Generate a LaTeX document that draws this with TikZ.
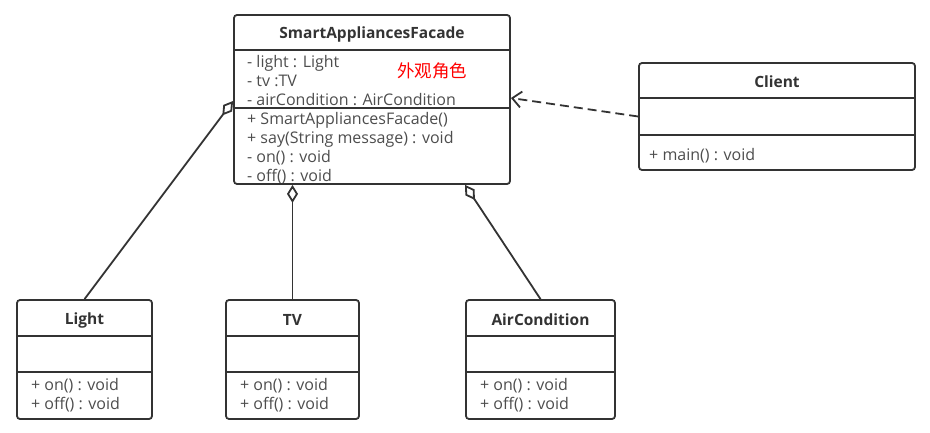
\documentclass[tikz,border=0pt]{standalone}
\usepackage{fontspec}
\setmainfont{Open Sans}
\newfontfamily\cjk{Noto Sans CJK SC}
\usetikzlibrary{arrows.meta}
\definecolor{linegray}{HTML}{333333}
\definecolor{textgray}{HTML}{4D4D4D}
\definecolor{rolered}{HTML}{FF0000}

\begin{document}
\begin{tikzpicture}[x=1pt, y=-1pt,
    class box/.style={draw=linegray, line width=1.8pt, rounded corners=3pt, inner sep=0pt},
    class name/.style={inner sep=0pt, text=linegray, font=\bfseries\fontsize{15.5}{17}\selectfont},
    member/.style={anchor=west, inner sep=0pt, text height=11.5pt, text depth=3.5pt, text=textgray, font=\fontsize{16}{18}\selectfont},
    sep line/.style={draw=linegray, line width=1.8pt},
    agg/.style={draw=linegray, line width=1.8pt, {Diamond[open, length=18pt, width=11pt]}-},
    dep/.style={draw=linegray, line width=1.8pt, dash pattern=on 9pt off 5pt, -{Straight Barb[length=9pt, width=16pt]}}]
  \useasboundingbox (0,0) rectangle (930,433);

  % facade
  \foreach \y/\t [count=\i] in {64/- light : Light, 83/- tv :TV, 102/- airCondition : AirCondition,
      121/+ SmartAppliancesFacade(), 140/+ say(String message) : void, 159/- on() : void, 178/- off() : void}
    \node[member] (facade-m\i) at (247,\y) {\t};
  \node[class box, minimum width=276pt, minimum height=169pt] (facade) at (372,99.5) {};
  \node[class name] (facade-name) at (372,34) {SmartAppliancesFacade};
  \draw[sep line] (facade.west |- 0,50) -- (facade.east |- 0,50);
  \draw[sep line] (facade.west |- 0,108) -- (facade.east |- 0,108);
  \node[inner sep=0pt, text=rolered, font=\cjk\fontsize{17.5}{18}\selectfont] (role) at (432,71) {外观角色};

  % client
  \node[class box, minimum width=276pt, minimum height=107pt] (client) at (777,116.5) {};
  \node[class name] (client-name) at (777,82) {Client};
  \draw[sep line] (client.west |- 0,98) -- (client.east |- 0,98);
  \draw[sep line] (client.west |- 0,135) -- (client.east |- 0,135);
  \node[member] (client-m1) at (649,157) {+ main() : void};

  % subsystems
  \foreach \n/\t/\l/\r in {light/Light/17/152, tv/TV/226/359, air/AirCondition/466/615} {
    \node[class box, minimum width=\r pt-\l pt, minimum height=119pt] (\n) at ({(\l+\r)/2},359.5) {};
    \node[class name] (\n-name) at ({(\l+\r)/2},320) {\t};
    \draw[sep line] (\n.west |- 0,336) -- (\n.east |- 0,336);
    \draw[sep line] (\n.west |- 0,372) -- (\n.east |- 0,372);
    \node[member] (\n-on) at (\l+14,386) {+ on() : void};
    \node[member] (\n-off) at (\l+14,405) {+ off() : void};
  }

  \coordinate (f-light) at (facade.west |- 0,101);
  \coordinate (f-tv) at (tv.north |- facade.south);
  \coordinate (f-air) at (facade.south -| 465,0);
  \coordinate (f-client) at (facade.east |- 0,98);

  \draw[agg] (f-light) -- (light.north);
  \draw[agg] (f-tv) -- (tv.north);
  \draw[agg] (f-air) -- (air.north);
  \draw[dep] (client.west) -- (f-client);
\end{tikzpicture}
\end{document}
